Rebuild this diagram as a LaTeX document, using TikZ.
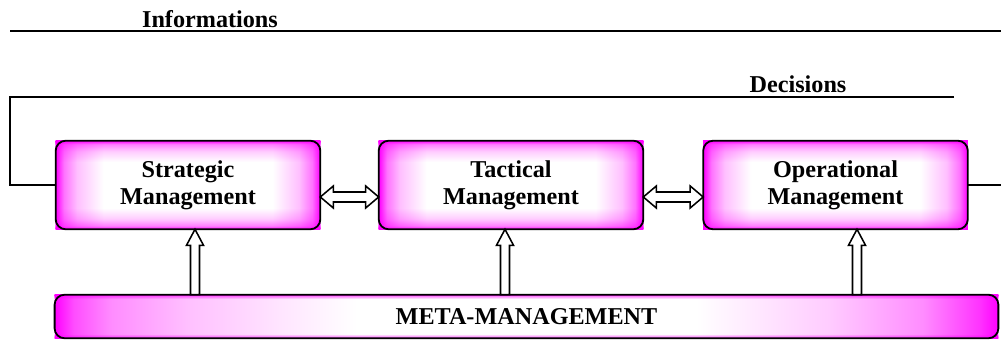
\documentclass[tikz,border=0pt]{standalone}
\usepackage{fontspec}
\setmainfont{Liberation Serif}
\usetikzlibrary{arrows.meta, positioning, calc}
\pgfdeclarehorizontalshading{boxh}{100bp}{color(0bp)=(magenta); color(25bp)=(magenta); color(26.5bp)=(magenta!55); color(29bp)=(magenta!25); color(34bp)=(white); color(66bp)=(white); color(71bp)=(magenta!25); color(73.5bp)=(magenta!55); color(75bp)=(magenta); color(100bp)=(magenta)}
\pgfdeclareverticalshading{boxv}{100bp}{color(0bp)=(magenta); color(25bp)=(magenta); color(27bp)=(magenta!50); color(31bp)=(magenta!20); color(37bp)=(white); color(63bp)=(white); color(69bp)=(magenta!20); color(73bp)=(magenta!50); color(75bp)=(magenta); color(100bp)=(magenta)}
\pgfdeclarehorizontalshading{metah}{100bp}{color(0bp)=(magenta); color(25bp)=(magenta); color(26bp)=(magenta!70); color(28bp)=(magenta!45); color(32bp)=(magenta!25); color(37bp)=(magenta!10); color(41bp)=(white); color(59bp)=(white); color(66bp)=(magenta!20); color(71bp)=(magenta!45); color(74bp)=(magenta!80); color(75bp)=(magenta); color(100bp)=(magenta)}
\pgfdeclareverticalshading{metav}{100bp}{color(0bp)=(magenta); color(25bp)=(magenta); color(26.5bp)=(magenta!50); color(30bp)=(white); color(70bp)=(white); color(73.5bp)=(magenta!50); color(75bp)=(magenta); color(100bp)=(magenta)}

% hollow double arrow between two boxes, a bit below their middle
\newcommand{\twoway}[2]{\draw[hollow] ($(#1.east)+(0,12)$) -- ++(13,-11) -- ++(0,6) -- ($(#2.west)+(-13,7)$) -- ++(0,-6) -- ($(#2.west)+(0,12)$) -- ++(-13,11) -- ++(0,-6) -- ($(#1.east)+(13,17)$) -- ++(0,6) -- cycle;}
% hollow arrow from the meta bar up to a box, at x = #2
\newcommand{\upway}[2]{\draw[hollow] (#1.south -| #2,0) -- ++(8.5,16) -- ++(-4,0) -- ($(meta.north -| #2,0)+(4.5,0)$) -- ($(meta.north -| #2,0)+(-4.5,0)$) -- ($(#1.south -| #2,0)+(-4.5,16)$) -- ++(-4,0) -- cycle;}

\begin{document}
\begin{tikzpicture}[x=0.025cm, y=-0.025cm,
  level/.style={shading=boxh, minimum width=6.6cm, minimum height=2.2cm, inner sep=0pt, align=center, font=\bfseries\fontsize{17.2}{19.5}\selectfont},
  metabox/.style={shading=metah, minimum width=23.575cm, minimum height=1.075cm, inner sep=0pt, font=\bfseries\fontsize{17.2}{19.5}\selectfont},
  flowtext/.style={anchor=base, inner sep=0pt, font=\bfseries\fontsize{17.2}{19.5}\selectfont},
  rim/.style={draw, line width=1.3pt, rounded corners=0.25cm},
  feed/.style={line width=1.2pt},
  hollow/.style={draw, fill=white, line width=1.1pt, line join=miter}
]
  \useasboundingbox (0,0) rectangle (1001,340);

  % the three levels and the meta level
  \node[level] (strat) at (188,185) {Strategic\\Management};
  \node[level] (tact) at (511,185) {Tactical\\Management};
  \node[level] (oper) at (835.5,185) {Operational\\Management};
  \node[metabox] (meta) at (526.5,316.5) {META-MANAGEMENT};
  \begin{scope}[blend mode=multiply]
    \foreach \n/\s in {strat/boxv,tact/boxv,oper/boxv,meta/metav}
      \shade[shading=\s] (\n.south west) rectangle (\n.north east);
  \end{scope}
  \foreach \n in {strat,tact,oper,meta}
    \draw[rim] (\n.south west) rectangle (\n.north east);

  % flow lines
  \node[flowtext] (info) at (210,28) {Informations};
  \node[flowtext] (dec) at (798,93) {Decisions};
  \coordinate (infoL) at (10,31);
  \coordinate (infoR) at (1001,31);
  \coordinate (decR) at (954,97);
  \coordinate (decL) at (10,97);
  \coordinate (outR) at (1001,185);
  \draw[feed] (infoL) -- (infoR);
  \draw[feed] (decR) -- (decL) |- (strat.west);
  \draw[feed] (oper.east) -- (outR);

  % arrows
  \twoway{strat}{tact}
  \twoway{tact}{oper}
  \upway{strat}{195}
  \upway{tact}{505}
  \upway{oper}{857}
\end{tikzpicture}
\end{document}
